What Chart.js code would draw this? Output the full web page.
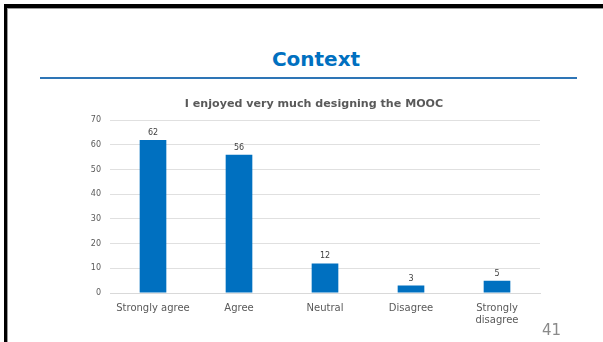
<!DOCTYPE html>
<html>
<head>
<meta charset="utf-8">
<script src="https://cdn.jsdelivr.net/npm/chart.js@4.4.1/dist/chart.umd.min.js"></script>
<style>
  html, body { margin: 0; padding: 0; background: #fff; }
  body { width: 603px; height: 342px; position: relative; overflow: hidden; font-family: "DejaVu Sans", sans-serif; }
  #frame { position: absolute; left: 4px; top: 4px; right: -10px; bottom: -10px;
           border-top: 4px solid #000; border-left: 3px solid #000; }
  #frame div { position: absolute; left: 0; top: 0; right: 0; bottom: 0;
               border-top: 1px solid #9a9a9a; border-left: 1px solid #9a9a9a; }
  #heading { position: absolute; left: 0; width: 632px; top: 47px; text-align: center;
             font-weight: bold; font-size: 20px; color: #0070C0; }
  #rule { position: absolute; left: 40px; width: 537px; top: 77px; height: 2px; background: #2E75B6; }
  #page { position: absolute; left: 542px; top: 321px; font-size: 15px; color: #8a8a8a; }
  #wrap { position: absolute; left: 0; top: 0; width: 603px; height: 342px; }
</style>
</head>
<body>
<div id="frame"><div></div></div>
<div id="heading">Context</div>
<div id="rule"></div>
<div id="wrap"><canvas id="barChart" width="603" height="342"></canvas></div>
<div id="page">41</div>
<script>
const categories = ['Strongly agree', 'Agree', 'Neutral', 'Disagree', ['Strongly', 'disagree']];
const responses = [62, 56, 12, 3, 5];
const yTicks = [0, 10, 20, 30, 40, 50, 60, 70];

// draw the value above each bar
const valueLabels = {
    id: 'valueLabels',
    afterDatasetsDraw(chart) {
        const ctx = chart.ctx;
        ctx.save();
        ctx.font = '8px "DejaVu Sans"';
        ctx.fillStyle = '#404040';
        ctx.textAlign = 'center';
        ctx.textBaseline = 'bottom';
        chart.getDatasetMeta(0).data.forEach((bar, i) => {
            ctx.fillText(responses[i], bar.x, bar.y - 3);
        });
        ctx.restore();
    }
};

let ctx = document.getElementById('barChart').getContext('2d');
let barChart = new Chart(ctx, {
    type: 'bar',
    data: {
        labels: categories,
        datasets: [{
            data: responses,
            backgroundColor: '#0070C0',
            borderWidth: 0,
            barPercentage: 0.31,
            categoryPercentage: 1
        }]
    },
    options: {
        responsive: false,
        animation: false,
        // wide left padding + narrow y axis keeps the title centred like the slide
        layout: { padding: { left: 88, right: 63, top: 0, bottom: 0 } },
        plugins: {
            legend: { display: false },
            tooltip: { enabled: false },
            title: {
                display: true,
                text: 'I enjoyed very much designing the MOOC',
                color: '#595959',
                font: { family: 'DejaVu Sans', size: 11.1, weight: 'bold' },
                padding: { top: 97, bottom: 10 }
            }
        },
        scales: {
            x: {
                grid: { display: false, drawTicks: false },
                border: { color: '#d9d9d9' },
                ticks: { color: '#595959', font: { family: 'DejaVu Sans', size: 10 }, padding: 9, maxRotation: 0 },
                afterFit(scale) { scale.height = 49; }
            },
            y: {
                min: 0,
                max: 70,
                grid: { color: '#e0e0e0', drawTicks: false },
                border: { display: false },
                afterBuildTicks(scale) { scale.ticks = yTicks.map(v => ({ value: v })); },
                ticks: { color: '#595959', font: { family: 'DejaVu Sans', size: 8 }, padding: 9 },
                afterFit(scale) { scale.width = 22; }
            }
        }
    },
    plugins: [valueLabels]
});
</script>
</body>
</html>
